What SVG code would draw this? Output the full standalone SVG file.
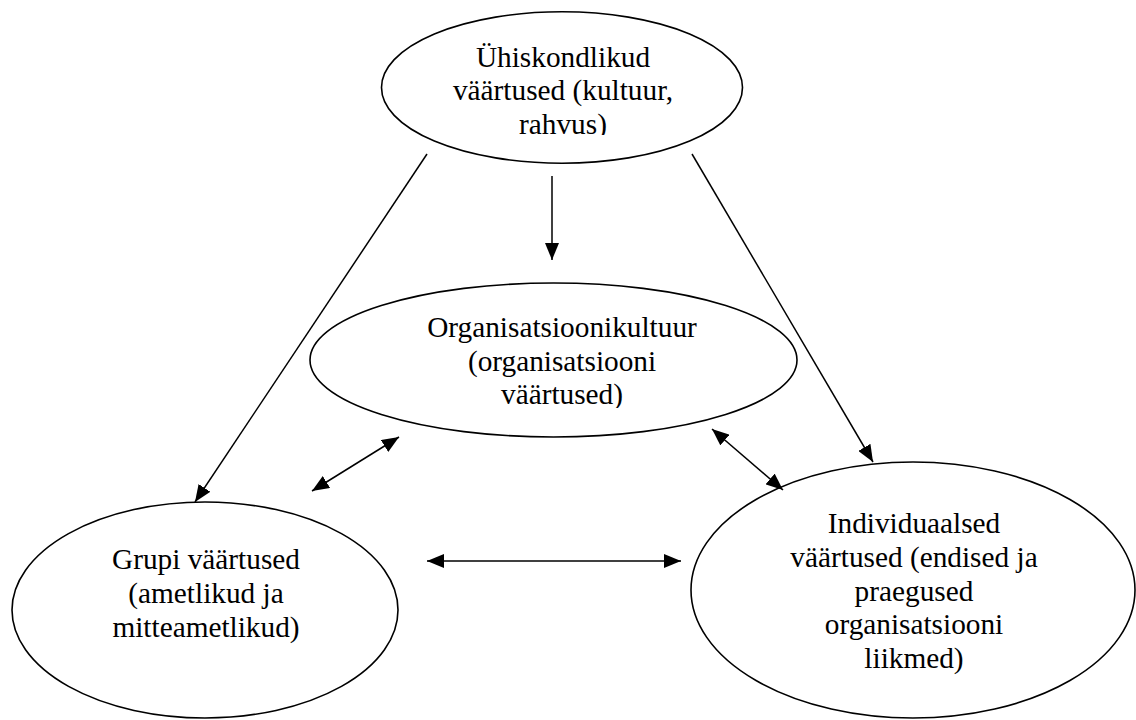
<svg xmlns="http://www.w3.org/2000/svg" width="1136" height="720" viewBox="0 0 1136 720">
  <style>
    .node ellipse { fill: #ffffff; stroke: #000000; stroke-width: 1.6; }
    .label { font-family: "Liberation Serif", "Times New Roman", serif; font-size: 29.3px; fill: #000000; text-anchor: middle; }
    .conn line { stroke: #000000; stroke-width: 1.5; fill: none; }
  </style>
  <defs>
    <marker id="ah" markerUnits="userSpaceOnUse" markerWidth="18" markerHeight="14" refX="17" refY="7" orient="auto-start-reverse" viewBox="0 0 18 14">
      <path d="M0,0 L17,7 L0,14 z" fill="#000000"/>
    </marker>
    <clipPath id="clipTop"><rect x="380" y="20" width="370" height="115"/></clipPath>
    <clipPath id="clipMid"><rect x="310" y="300" width="500" height="108"/></clipPath>
  </defs>
  <rect width="1136" height="720" fill="#ffffff"/>

  <g id="node-yhiskondlikud" class="node">
    <ellipse cx="562" cy="87.5" rx="180.5" ry="75.7"/>
    <g clip-path="url(#clipTop)">
      <text class="label" x="563" y="67">Ühiskondlikud</text>
      <text class="label" x="563" y="100">väärtused (kultuur,</text>
      <text class="label" x="563" y="133.5">rahvus)</text>
    </g>
  </g>

  <g id="node-organisatsioonikultuur" class="node">
    <ellipse cx="553.5" cy="360" rx="243.5" ry="77"/>
    <g clip-path="url(#clipMid)">
      <text class="label" x="562" y="337">Organisatsioonikultuur</text>
      <text class="label" x="562" y="370.5">(organisatsiooni</text>
      <text class="label" x="562" y="404">väärtused)</text>
    </g>
  </g>

  <g id="node-grupi" class="node">
    <ellipse cx="205" cy="610" rx="193" ry="108"/>
    <text class="label" x="206" y="569">Grupi väärtused</text>
    <text class="label" x="206" y="603">(ametlikud ja</text>
    <text class="label" x="206" y="637">mitteametlikud)</text>
  </g>

  <g id="node-individuaalsed" class="node">
    <ellipse cx="913" cy="590" rx="222" ry="128"/>
    <text class="label" x="914" y="533">Individuaalsed</text>
    <text class="label" x="914" y="567">väärtused (endised ja</text>
    <text class="label" x="914" y="600.5">praegused</text>
    <text class="label" x="914" y="634">organisatsiooni</text>
    <text class="label" x="914" y="668">liikmed)</text>
  </g>

  <g id="connectors" class="conn">
    <line x1="427" y1="154" x2="195" y2="502" marker-end="url(#ah)"/>
    <line x1="692" y1="154" x2="873" y2="462" marker-end="url(#ah)"/>
    <line x1="552" y1="176" x2="552" y2="260" marker-end="url(#ah)"/>
    <line x1="312" y1="491" x2="399" y2="437" marker-start="url(#ah)" marker-end="url(#ah)"/>
    <line x1="712" y1="429" x2="783" y2="490" marker-start="url(#ah)" marker-end="url(#ah)"/>
    <line x1="427" y1="561" x2="681" y2="561" marker-start="url(#ah)" marker-end="url(#ah)"/>
  </g>
</svg>
